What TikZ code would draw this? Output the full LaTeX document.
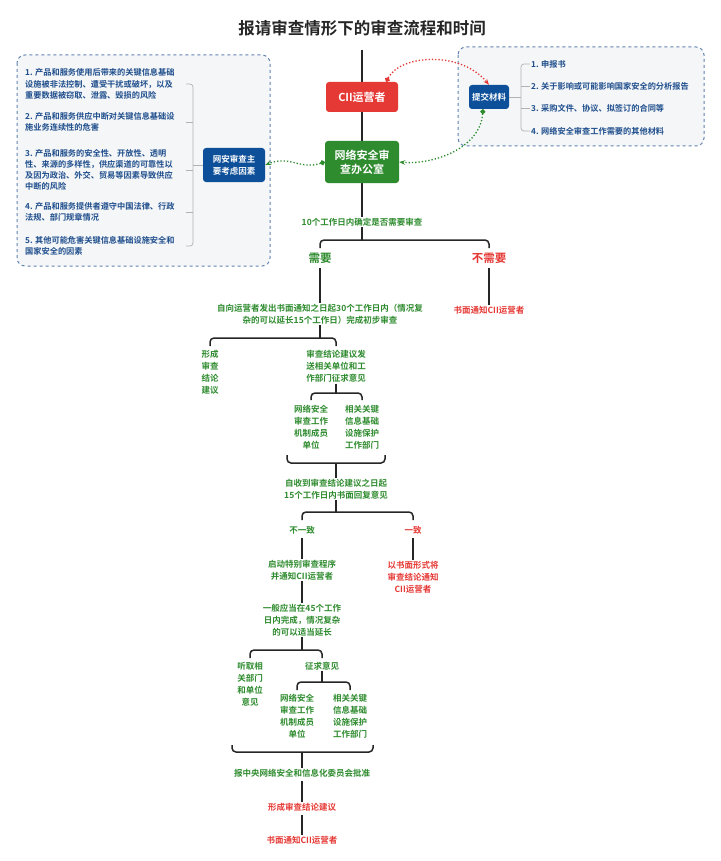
\documentclass[tikz,border=0pt]{standalone}
\usepackage{fontspec}
\setmainfont{Noto Sans CJK SC}[BoldFont={Noto Sans CJK SC Bold}]
\usetikzlibrary{arrows.meta}
\definecolor{gr}{HTML}{2E8B2E}
\definecolor{rd}{HTML}{E53935}
\definecolor{bl}{HTML}{0D4F99}
\definecolor{tx}{HTML}{1F4E8C}
\definecolor{bg}{HTML}{F4F6F8}
\begin{document}
\begin{tikzpicture}[x=1pt,y=-1pt,
 g/.style={text=gr,font=\bfseries\fontsize{8.5}{12}\selectfont,align=center,inner sep=1pt},
 r/.style={text=rd,font=\bfseries\fontsize{8.5}{12}\selectfont,align=center,inner sep=1pt},
 item/.style={text=tx,font=\bfseries\fontsize{8.2}{11.2}\selectfont,align=left,anchor=west,inner sep=1pt},
 box/.style={rounded corners=3pt,text=white,font=\bfseries\fontsize{11}{14}\selectfont,align=center,inner sep=2pt},
 ln/.style={line width=1.5pt,black!85},
 br/.style={line width=1.5pt,black!85,rounded corners=4pt},
 dbox/.style={draw=tx!70,dashed,line width=1pt,fill=bg,rounded corners=8pt},
 thin/.style={draw=gray!60,line width=0.7pt,rounded corners=3pt}]
\useasboundingbox (0,0) rectangle (720,861);
\fill[white] (0,0) rectangle (720,861);
\node[font=\bfseries\fontsize{16.5}{18}\selectfont,text=black!85] (title) at (362,28) {报请审查情形下的审查流程和时间};
% dashed boxes
\draw[dbox] (17,55) rectangle (270,266);
\draw[dbox] (458,47) rectangle (704,146);
% trunk
\draw[ln] (362,50) -- (362,240);
\node[box,fill=rd,minimum width=72,minimum height=30] (cii) at (362,97) {CII运营者};
\node[box,fill=gr,minimum width=74,minimum height=42] (off) at (362,162) {网络安全审\\查办公室};
\node[box,fill=bl,font=\bfseries\fontsize{8.5}{12}\selectfont,minimum width=62,minimum height=34] (fac) at (234,165) {网安审查主\\要考虑因素};
\node[box,fill=bl,font=\bfseries\fontsize{8.5}{12}\selectfont,minimum width=40,minimum height=24] (mat) at (489,97) {提交材料};
% left items
\node[item] (f1) at (24,84) {1. 产品和服务使用后带来的关键信息基础\\设施被非法控制、遭受干扰或破坏，以及\\重要数据被窃取、泄露、毁损的风险};
\node[item] (f2) at (24,122) {2. 产品和服务供应中断对关键信息基础设\\施业务连续性的危害};
\node[item] (f3) at (24,170) {3. 产品和服务的安全性、开放性、透明\\性、来源的多样性，供应渠道的可靠性以\\及因为政治、外交、贸易等因素导致供应\\中断的风险};
\node[item] (f4) at (24,212) {4. 产品和服务提供者遵守中国法律、行政\\法规、部门规章情况};
\node[item] (f5) at (24,246) {5. 其他可能危害关键信息基础设施安全和\\国家安全的因素};
\draw[thin] (186,84) -- (193,84) -- (193,246) -- (186,246);
\foreach \y in {122,170,212} \draw[thin] (186,\y) -- (193,\y);
\draw[thin] (193,165) -- (fac.west);
% right items
\node[item] (m1) at (530,64) {1. 申报书};
\node[item] (m2) at (530,86) {2. 关于影响或可能影响国家安全的分析报告};
\node[item] (m3) at (530,108) {3. 采购文件、协议、拟签订的合同等};
\node[item] (m4) at (530,131) {4. 网络安全审查工作需要的其他材料};
\draw[thin] (m1.west) -- (521,64) -- (521,131) -- (m4.west);
\draw[thin] (521,86) -- (m2.west); \draw[thin] (521,108) -- (m3.west);
\draw[thin] (mat.east) -- (521,97);
% dotted connectors
\draw[rd,line width=1.3pt,dotted,{Circle[length=5pt,fill=rd]}-{Stealth[length=6pt]}] (cii.north east)++(-12,0) .. controls (400,55) and (460,50) .. (mat.north);
\draw[gr,line width=1.3pt,dotted,{Circle[length=5pt,fill=gr]}-{Stealth[length=6pt]}] (mat.south)++(-6,0) .. controls (480,150) and (430,165) .. (off.east);
\draw[gr,line width=1.3pt,dotted,{Circle[length=5pt,fill=gr]}-{Stealth[length=6pt]}] (off.west) .. controls (300,170) and (290,155) .. (fac.east);
% flow
\node[g,fill=white] (t10) at (362,222) {10个工作日内确定是否需要审查};
\draw[br] (320,248) -- (320,240) -- (489,240) -- (489,248);
\node[g,font=\bfseries\fontsize{11.5}{13}\selectfont] (need) at (320,258) {需要};
\node[r,font=\bfseries\fontsize{11.5}{13}\selectfont] (noneed) at (489,258) {不需要};
\node[r] (n1) at (489,310) {书面通知CII运营者};
\draw[ln] (noneed.south)++(0,4) -- (n1.north);
\node[g] (s30) at (320,314) {自向运营者发出书面通知之日起30个工作日内（情况复\\杂的可以延长15个工作日）完成初步审查};
\draw[ln] (need.south)++(0,4) -- (s30.north);
\draw[ln] (s30.south) -- (320,338);
\draw[br] (210,346) -- (210,338) -- (336,338) -- (336,346);
\node[g,anchor=north] (xc) at (210,349) {形成\\审查\\结论\\建议};
\node[g,anchor=north] (sc) at (336,349) {审查结论建议发\\送相关单位和工\\作部门征求意见};
\draw[ln] (sc.south) -- (336,393);
\draw[br] (311,400) -- (311,393) -- (362,393) -- (362,400);
\node[g,anchor=north] (a1) at (311,404) {网络安全\\审查工作\\机制成员\\单位};
\node[g,anchor=north] (a2) at (362,404) {相关关键\\信息基础\\设施保护\\工作部门};
\draw[br] (287,455) -- (287,463) -- (385,463) -- (385,455);
\node[g] (r15) at (336,489) {自收到审查结论建议之日起\\15个工作日内书面回复意见};
\draw[ln] (336,463) -- (r15.north);
\draw[ln] (r15.south) -- (336,512);
\draw[br] (302,520) -- (302,512) -- (413,512) -- (413,520);
\node[g] (bu) at (302,530) {不一致};
\node[r] (yi) at (413,530) {一致};
\node[g] (qd) at (302,570) {启动特别审查程序\\并通知CII运营者};
\node[r] (ys) at (413,577) {以书面形式将\\审查结论通知\\CII运营者};
\draw[ln] (bu.south)++(0,3) -- (qd.north);
\draw[ln] (yi.south)++(0,3) -- (ys.north);
\node[g] (d45) at (302,620) {一般应当在45个工作\\日内完成，情况复杂\\的可以适当延长};
\draw[ln] (qd.south) -- (d45.north);
\draw[ln] (d45.south) -- (302,650);
\draw[br] (250,658) -- (250,650) -- (322,650) -- (322,658);
\node[g,anchor=north] (tq) at (250,661) {听取相\\关部门\\和单位\\意见};
\node[g] (zq) at (322,666) {征求意见};
\draw[ln] (zq.south) -- (322,682);
\draw[br] (297,690) -- (297,682) -- (350,682) -- (350,690);
\node[g,anchor=north] (b1) at (297,693) {网络安全\\审查工作\\机制成员\\单位};
\node[g,anchor=north] (b2) at (350,693) {相关关键\\信息基础\\设施保护\\工作部门};
\draw[br] (232,745) -- (232,752) -- (373,752) -- (373,745);
\node[g] (bz) at (302,773) {报中央网络安全和信息化委员会批准};
\draw[ln] (302,752) -- (bz.north);
\node[r] (xs) at (302,807) {形成审查结论建议};
\draw[ln] (bz.south)++(0,3) -- (xs.north);
\node[r] (sm) at (302,840) {书面通知CII运营者};
\draw[ln] (xs.south)++(0,3) -- (sm.north);
\end{tikzpicture}
\end{document}
